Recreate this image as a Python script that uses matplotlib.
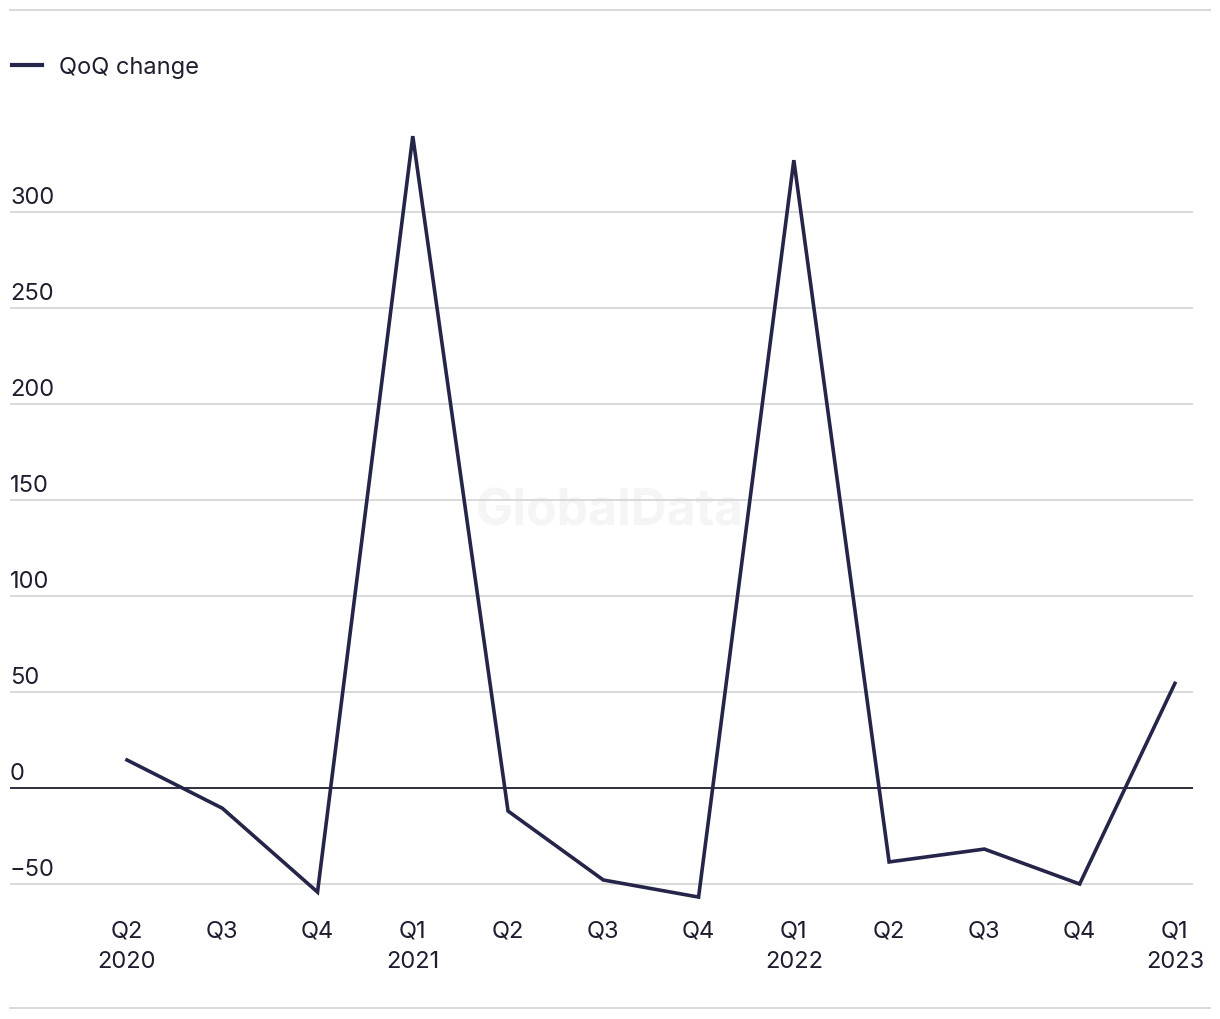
import matplotlib
matplotlib.use("Agg")
import matplotlib.pyplot as plt
from matplotlib.lines import Line2D

# --- data ---
quarters = ["Q2", "Q3", "Q4", "Q1", "Q2", "Q3", "Q4", "Q1", "Q2", "Q3", "Q4", "Q1"]
years = ["2020", "", "", "2021", "", "", "", "2022", "", "", "", "2023"]
qoq_change = [14.6, -10.5, -54.2, 339.5, -12.0, -47.9, -56.8, 327.0, -38.5, -31.8, -50.0, 54.5]
y_ticks = [-50, 0, 50, 100, 150, 200, 250, 300]

line_color = "#25254a"
text_color = "#1e1e30"
grid_color = "#d9d9d9"
W, H = 1220, 1020
fs = 17

plt.rcParams["font.family"] = ["Inter", "DejaVu Sans"]

fig = plt.figure(figsize=(W / 100, H / 100), dpi=100)
ax = fig.add_axes([10 / W, 1 - 900 / H, (1193 - 10) / W, 800 / H])

x = list(range(len(qoq_change)))
ax.set_xlim(-1.228, 11.19)
ax.set_ylim(-57.8, 358.85)

# gridlines + zero line
for t in y_ticks:
    if t == 0:
        ax.axhline(0, color=text_color, lw=1.3, zorder=2)
    else:
        ax.axhline(t, color=grid_color, lw=1.4, zorder=1)
    ax.annotate("\u2212" + str(abs(t)) if t < 0 else str(t),
                xy=(0, t), xycoords=("axes fraction", "data"),
                xytext=(0, 3), textcoords="offset points",
                ha="left", va="bottom", fontsize=fs, color=text_color)

ax.plot(x, qoq_change, color=line_color, lw=2.6, label="QoQ change",
        zorder=3, clip_on=False, solid_joinstyle="miter")

ax.set_xticks(x)
ax.set_xticklabels([q + ("\n" + y if y else "") for q, y in zip(quarters, years)],
                   fontsize=fs, color=text_color, linespacing=1.5, va="top")
ax.tick_params(axis="x", length=0, pad=15)
ax.set_yticks([])
for s in ax.spines.values():
    s.set_visible(False)

# watermark
ax.text(0.5, 1 - 512 / H, "GlobalData", transform=fig.transFigure, ha="center", va="center",
        fontsize=36, fontweight="bold", color="#f5f5f5", zorder=0)

# legend
fig.legend(handles=[Line2D([], [], color=line_color, lw=3)], labels=["QoQ change"],
           loc="center left", bbox_to_anchor=(12 / W, 1 - 68 / H), frameon=False,
           fontsize=fs, handlelength=1.25, handletextpad=0.75, borderpad=0,
           borderaxespad=0, labelcolor=text_color)

# separator rules at top and bottom
fig.add_artist(Line2D([10 / W, 1210 / W], [1 - 11 / H, 1 - 11 / H], color=grid_color, lw=1.4))
fig.add_artist(Line2D([10 / W, 1210 / W], [1 - 1009 / H, 1 - 1009 / H], color=grid_color, lw=1.4))

fig.savefig("out.png", dpi=100)
